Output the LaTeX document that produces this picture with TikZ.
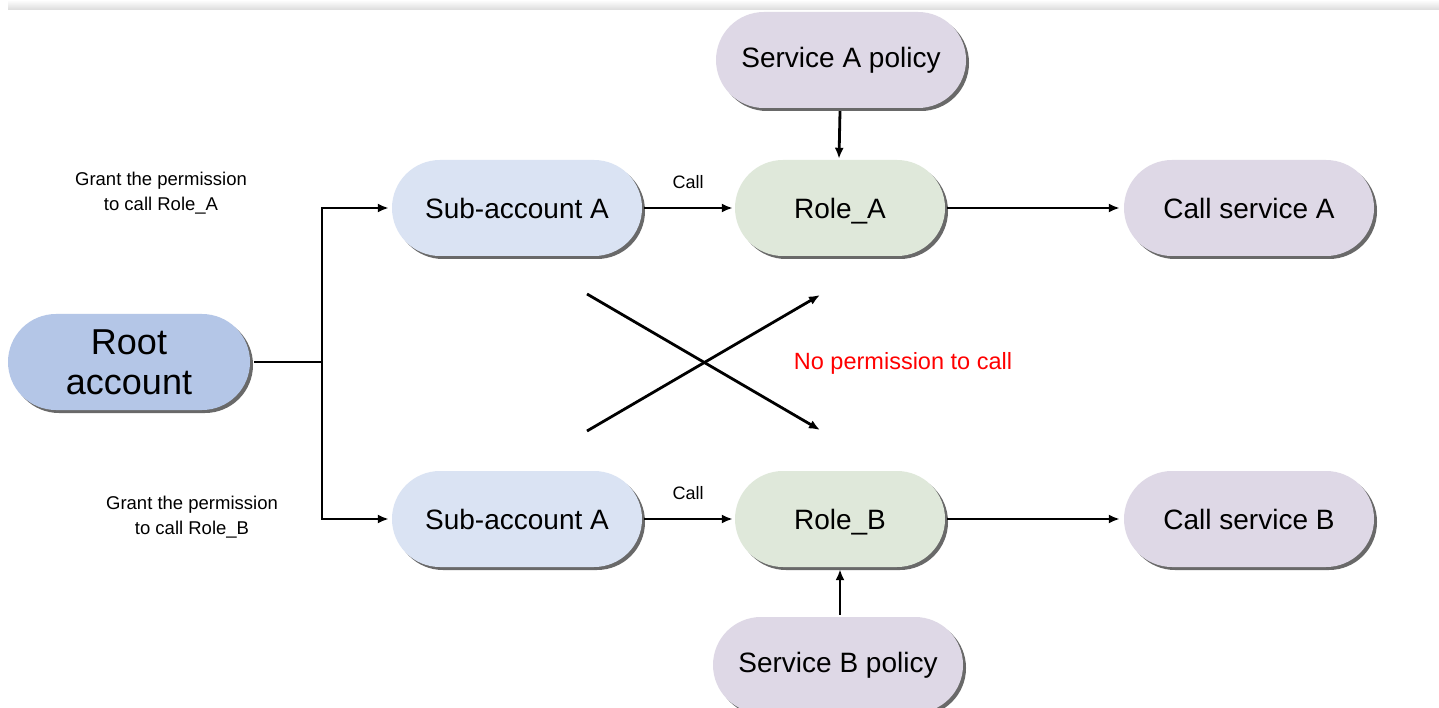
\documentclass[tikz,border=0pt]{standalone}
\usepackage{fontspec}
\setmainfont{Liberation Sans}
\usetikzlibrary{shapes.misc,shadows,arrows.meta}
\definecolor{rootc}{HTML}{B4C6E7}
\definecolor{subc}{HTML}{DAE3F3}
\definecolor{rolec}{HTML}{DFE8DA}
\definecolor{svcc}{HTML}{DED8E6}
\definecolor{redtxt}{HTML}{FF0000}
\tikzset{
  pill/.style={rounded rectangle, minimum height=96pt, minimum width=250pt, inner sep=0pt,
    font=\fontsize{28}{32}\selectfont,
    drop shadow={shadow xshift=3pt, shadow yshift=-3pt, fill=black!65, opacity=0.9}},
  conn/.style={line width=2.8pt, draw=black},
  arr/.style={conn, -{Latex[length=11pt,width=9pt]}},
  small/.style={font=\fontsize{18.5}{25}\selectfont, align=center},
}
\begin{document}
\begin{tikzpicture}[x=1pt,y=-1pt]
\useasboundingbox (0,0) rectangle (1439,708);
\fill[white] (0,0) rectangle (1439,708);
\shade[top color=white, bottom color=black!14] (8,0) rectangle (1439,10);

\node[pill, fill=svcc] (spa) at (841,60) {Service A policy};
\node[pill, fill=subc] (suba) at (517,208) {Sub-account A};
\node[pill, fill=rolec, minimum width=210pt, text depth=0pt] (rolea) at (840,208) {Role\_A};
\node[pill, fill=svcc] (csa) at (1249,208) {Call service A};
\node[pill, fill=rootc, minimum width=242pt, align=center, font=\fontsize{36}{40}\selectfont] (root) at (129,362) {Root\\account};
\node[pill, fill=subc] (subb) at (517,519) {Sub-account A};
\node[pill, fill=rolec, minimum width=210pt, text depth=0pt] (roleb) at (840,519) {Role\_B};
\node[pill, fill=svcc] (csb) at (1249,519) {Call service B};
\node[pill, fill=svcc] (spb) at (838,665) {Service B policy};

\node[small] (ga) at (161,193) {Grant the permission\\to call Role\_A};
\node[small] (gb) at (192,517) {Grant the permission\\to call Role\_B};
\node[font=\fontsize{18}{20}\selectfont] (calla) at (688,182) {Call};
\node[font=\fontsize{18}{20}\selectfont] (callb) at (688,493) {Call};
\node[font=\fontsize{23.5}{26}\selectfont, text=redtxt] (np) at (903,363) {No permission to call};

\coordinate (j) at (322,362);
\draw[conn] ([xshift=4pt]root.east) -- (j);
\draw[arr] (j) |- ([xshift=-3pt]suba.west);
\draw[arr] (j) |- ([xshift=-3pt]subb.west);
\draw[arr] ([xshift=2pt]suba.east) -- ([xshift=-2pt]rolea.west);
\draw[arr] ([xshift=2pt]subb.east) -- ([xshift=-2pt]roleb.west);
\draw[arr] ([xshift=2pt]rolea.east) -- ([xshift=-4pt]csa.west);
\draw[arr] ([xshift=2pt]roleb.east) -- ([xshift=-4pt]csb.west);
\draw[arr] ([xshift=-1pt,yshift=-3pt]spa.south) -- ([xshift=-1pt,yshift=1pt]rolea.north);
\draw[arr] ([xshift=2pt,yshift=2pt]spb.north) -- ([yshift=-2pt]roleb.south);

\coordinate (x1s) at (587,294);
\coordinate (x1e) at (820,430);
\coordinate (x2s) at (587,431);
\coordinate (x2e) at (820,295);
\draw[arr] (x1s) -- (x1e);
\draw[arr] (x2s) -- (x2e);
\end{tikzpicture}
\end{document}
